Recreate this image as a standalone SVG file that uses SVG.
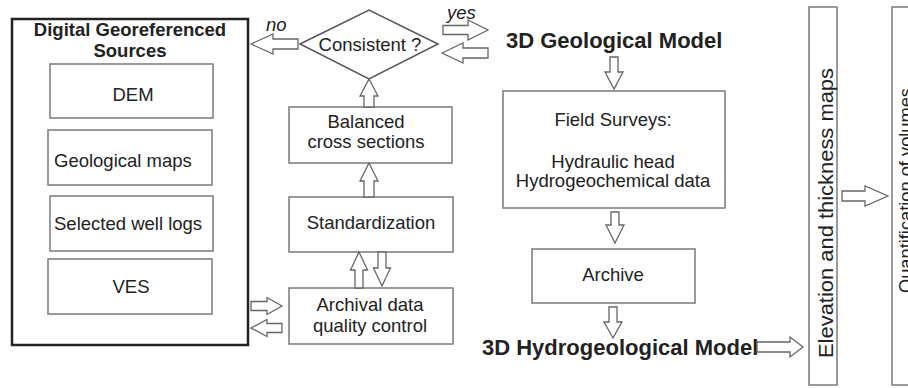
<svg xmlns="http://www.w3.org/2000/svg" width="908" height="388" viewBox="0 0 908 388">
<style>
text{font-family:"Liberation Sans",Arial,sans-serif;fill:#222;font-size:18.5px}
.b{font-weight:bold}
.t{font-size:22px;font-weight:bold}
.c{text-anchor:middle}
.i{font-style:italic}
.box{fill:#fff;stroke:#7a7a7a;stroke-width:1.5}
.outer{fill:#fff;stroke:#222;stroke-width:2.5}
.dia{fill:#fff;stroke:#555;stroke-width:1.5}
.arr{fill:#fff;stroke:#666;stroke-width:1.3;stroke-linejoin:miter}
</style>
<rect width="908" height="388" fill="#fff"/>
<g id="sources">
<rect class="outer" x="12" y="19" width="236" height="326"/>
<text class="b c" x="130" y="36">Digital Georeferenced</text>
<text class="b c" x="130" y="57">Sources</text>
</g>
<g id="dem"><rect class="box" x="50" y="64" width="163" height="54"/><text class="c" x="133" y="101">DEM</text></g>
<g id="geomaps"><rect class="box" x="48" y="130" width="164" height="55"/><text x="54" y="167">Geological maps</text></g>
<g id="welllogs"><rect class="box" x="50" y="196" width="163" height="55"/><text x="54" y="230">Selected well logs</text></g>
<g id="ves"><rect class="box" x="48" y="259" width="164" height="55"/><text class="c" x="131" y="293">VES</text></g>
<g id="consistent"><polygon class="dia" points="300,44 369,10 438,44 369,79"/><text class="c" x="370" y="51">Consistent ?</text></g>
<g id="balanced"><rect class="box" x="289" y="107" width="163" height="56"/><text class="c" x="366" y="128">Balanced</text><text class="c" x="366" y="148">cross sections</text></g>
<g id="standard"><rect class="box" x="289" y="197" width="164" height="55"/><text class="c" x="371" y="229">Standardization</text></g>
<g id="archival"><rect class="box" x="289" y="288" width="164" height="56"/><text class="c" x="370" y="311">Archival data</text><text class="c" x="370" y="332">quality control</text></g>
<g id="geomodel"><text class="t" x="506" y="48">3D Geological Model</text></g>
<g id="field"><rect class="box" x="503" y="91" width="222" height="117"/><text class="c" x="613" y="126">Field Surveys:</text><text class="c" x="613" y="168">Hydraulic head</text><text class="c" x="613" y="187">Hydrogeochemical data</text></g>
<g id="archive"><rect class="box" x="532" y="249" width="163" height="54"/><text class="c" x="613" y="281">Archive</text></g>
<g id="hydromodel"><text class="t" x="482" y="355">3D Hydrogeological Model</text></g>
<g id="elevation"><rect class="box" x="809" y="7" width="28" height="378"/><text transform="translate(833,358) rotate(-90)" style="font-size:20px" textLength="290" lengthAdjust="spacingAndGlyphs">Elevation and thickness maps</text></g>
<g id="quant"><rect class="box" x="892" y="7" width="40" height="378"/><text transform="translate(912,293) rotate(-90)" style="font-size:19px" textLength="205" lengthAdjust="spacingAndGlyphs">Quantification of volumes</text></g>
<g id="connectors">
<polygon class="arr" points="251,44 273,34 273,39 298,39 298,49 273,49 273,54"/>
<text class="i" x="266" y="31">no</text>
<polygon class="arr" points="443,25.5 468,25.5 468,20 488,30 468,40 468,34.5 443,34.5"/>
<text class="i" x="447" y="19">yes</text>
<polygon class="arr" points="442,53 463,43 463,48 488,48 488,58 463,58 463,63"/>
<polygon class="arr" points="369,79 378,96 374,96 374,107 364,107 364,96 360,96"/>
<polygon class="arr" points="369,163 378,181 374,181 374,197 364,197 364,181 360,181"/>
<polygon class="arr" points="359,252 367.5,270 363,270 363,288 355,288 355,270 350.5,270"/>
<polygon class="arr" points="382,286 373.5,268 378,268 378,252 386,252 386,268 390.5,268"/>
<polygon class="arr" points="251,301.5 267,301.5 267,297.5 282,306 267,314.5 267,310.5 251,310.5"/>
<polygon class="arr" points="251,328 267,319.5 267,323.5 282,323.5 282,332.5 267,332.5 267,336.5"/>
<polygon class="arr" points="610,57 618,57 618,72 623,72 614,89 605,72 610,72"/>
<polygon class="arr" points="611,212 619,212 619,225 624,225 615,243 606,225 611,225"/>
<polygon class="arr" points="609,307 617,307 617,322 622,322 613,338 604,322 609,322"/>
<polygon class="arr" points="757,342 790,342 790,337 803,347 790,357 790,352 757,352"/>
<polygon class="arr" points="842,191 865,191 865,186 888,196 865,206 865,201 842,201"/>
</g>
</svg>
